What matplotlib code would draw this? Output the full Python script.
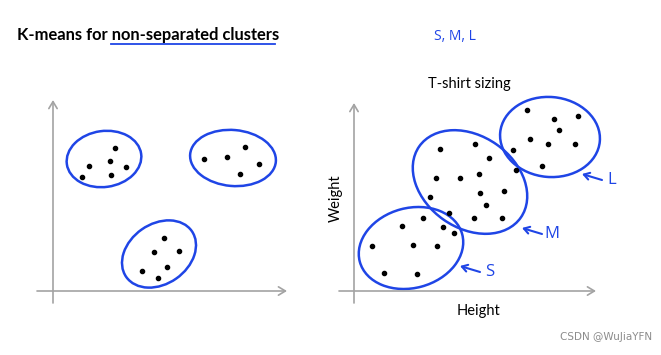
import matplotlib.pyplot as plt
from matplotlib.patches import Ellipse

# canvas is in pixel units of the original slide (y grows downward)
W, H = 661, 355
gray = '#a3a3a3'
blue = '#1f45e6'

# left panel: well separated clusters
left_x = [115, 89, 110, 126, 82, 111,
          204, 227, 245, 259, 240,
          164, 154, 179, 167, 142, 158]
left_y = [148, 166, 161, 167, 177, 175,
          159, 157, 147, 164, 174,
          238, 252, 251, 267, 271, 278]
left_ell_cx = [104, 233, 159]
left_ell_cy = [159, 158, 254]
left_ell_w = [75, 86, 80]
left_ell_h = [56, 56, 60]
left_ell_ang = [-8, 5, -35]

# right panel: t-shirt sizing (S, M, L)
right_x = [423, 402, 443, 454, 372, 413, 437, 384, 417,
           440, 475, 489, 516, 436, 460, 479, 430, 480, 504, 486, 449, 474, 502,
           527, 554, 578, 559, 530, 548, 575, 513, 542]
right_y = [218, 226, 227, 233, 246, 245, 246, 273, 274,
           149, 144, 158, 170, 178, 178, 174, 197, 193, 191, 205, 213, 218, 218,
           110, 119, 116, 130, 139, 144, 144, 150, 166]
right_ell_cx = [411, 470, 550]
right_ell_cy = [248, 182, 137]
right_ell_w = [106, 124, 100]
right_ell_h = [80, 92, 80]
right_ell_ang = [-15, 35, 5]

size_labels = ['S', 'M', 'L']
label_x = [490, 552, 612]
label_y = [272, 234, 180]

fig = plt.figure(figsize=(W / 100, H / 100), dpi=100)
ax = fig.add_axes([0, 0, 1, 1])
ax.set_xlim(0, W)
ax.set_ylim(H, 0)
ax.axis('off')

arrow = dict(arrowstyle='->,head_length=0.5,head_width=0.3', color=gray, lw=1.2,
             shrinkA=0, shrinkB=0)
# left axes
ax.annotate('', xy=(53, 100), xytext=(53, 303), arrowprops=arrow)
ax.annotate('', xy=(287, 291), xytext=(37, 291), arrowprops=arrow)
# right axes
ax.annotate('', xy=(354, 103), xytext=(354, 303), arrowprops=arrow)
ax.annotate('', xy=(596, 291), xytext=(339, 291), arrowprops=arrow)

ax.scatter(left_x, left_y, s=9, color='black', zorder=3)
ax.scatter(right_x, right_y, s=9, color='black', zorder=3)

for cx, cy, w, h, a in zip(left_ell_cx + right_ell_cx, left_ell_cy + right_ell_cy,
                           left_ell_w + right_ell_w, left_ell_h + right_ell_h,
                           left_ell_ang + right_ell_ang):
    ax.add_patch(Ellipse((cx, cy), w, h, angle=a, fill=False,
                         edgecolor=blue, lw=1.8, zorder=2))

for lab, lx, ly in zip(size_labels, label_x, label_y):
    ax.text(lx, ly, lab, color=blue, fontsize=12, ha='center', va='center',
            family='Open Sans')
    ax.annotate('', xy=(lx - 30, ly - 6), xytext=(lx - 10, ly),
                arrowprops=dict(arrowstyle='->,head_length=0.4,head_width=0.25',
                                color=blue, lw=1.5, shrinkA=0, shrinkB=0))

ax.text(17, 35, 'K-means for non-separated clusters', fontsize=11.9,
        fontweight='bold', family='Lato', va='center', ha='left')
ax.plot([111, 275], [44, 44], color=blue, lw=1.3)
ax.text(455, 37, 'S, M, L', color=blue, fontsize=10, ha='center', va='center',
        family='Open Sans')

ax.text(469, 84, 'T-shirt sizing', fontsize=10.5, ha='center', va='center',
        family='Lato')
ax.text(336, 198, 'Weight', fontsize=10.5, ha='center', va='center',
        rotation=90, family='Lato')
ax.text(479, 311, 'Height', fontsize=10.5, ha='center', va='center',
        family='Lato')
ax.text(652, 337, 'CSDN @WuJiaYFN', fontsize=7.5, ha='right', va='center',
        color='#8c8c8c')

fig.savefig('out.png', dpi=100)
